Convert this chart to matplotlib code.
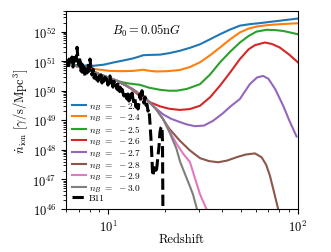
import matplotlib
matplotlib.use("Agg")
import matplotlib.pyplot as plt
from matplotlib.ticker import NullFormatter
import numpy as np

plt.rcParams['font.family'] = 'serif'
plt.rcParams['font.serif'] = ['cmr10']
plt.rcParams['mathtext.fontset'] = 'cm'
plt.rcParams['axes.formatter.use_mathtext'] = True

# redshift / log10(ndot_ion)
z_23 = [6.0, 7.0, 8.3, 9.5, 10.6, 12.0, 13.5, 14.7, 15.3, 16.5, 18.8, 21.0, 23.9, 27.0, 30.5, 34.5, 38.9, 44.0, 49.5, 55.8, 64.0, 74.0, 86.0, 100.0]
y_23 = [50.90, 50.86, 50.84, 50.88, 50.95, 51.02, 51.09, 51.16, 51.20, 51.21, 51.22, 51.27, 51.35, 51.45, 51.57, 51.74, 51.91, 52.07, 52.20, 52.25, 52.29, 52.34, 52.39, 52.44]

z_24 = [6.0, 7.4, 8.8, 10.2, 11.8, 13.5, 14.5, 15.3, 16.2, 17.9, 20.5, 23.9, 27.0, 30.5, 34.5, 38.9, 44.0, 49.5, 55.0, 60.6, 70.0, 80.3, 100.0]
y_24 = [50.90, 50.79, 50.72, 50.67, 50.66, 50.67, 50.69, 50.71, 50.68, 50.65, 50.66, 50.70, 50.80, 50.96, 51.20, 51.46, 51.74, 51.97, 52.10, 52.17, 52.22, 52.25, 52.28]

z_25 = [6.0, 7.4, 9.0, 11.1, 12.0, 13.0, 14.7, 16.5, 18.8, 21.0, 23.0, 26.0, 30.5, 34.5, 38.9, 44.0, 49.5, 55.0, 60.6, 68.5, 76.0, 83.7, 100.0]
y_25 = [50.90, 50.79, 50.56, 50.34, 50.28, 50.24, 50.20, 50.10, 50.03, 50.00, 50.00, 50.06, 50.22, 50.55, 50.96, 51.32, 51.63, 51.85, 52.00, 52.06, 52.05, 52.02, 51.91]

z_26 = [6.0, 7.4, 9.0, 11.1, 12.5, 13.5, 14.7, 16.5, 18.8, 21.0, 23.9, 27.0, 30.5, 34.5, 38.9, 44.0, 49.5, 55.0, 59.4, 67.0, 73.0, 80.3, 90.0, 100.0]
y_26 = [50.90, 50.79, 50.56, 50.34, 50.18, 50.02, 49.82, 49.62, 49.47, 49.39, 49.35, 49.38, 49.49, 49.78, 50.17, 50.62, 51.07, 51.40, 51.54, 51.63, 51.58, 51.46, 51.22, 50.96]

z_27 = [6.0, 7.4, 9.0, 11.1, 13.5, 15.9, 17.5, 19.5, 21.5, 23.9, 26.0, 28.7, 32.0, 35.7, 40.0, 44.0, 49.5, 55.8, 61.0, 65.6, 70.0, 76.0, 83.7, 90.0, 98.4]
y_27 = [50.90, 50.79, 50.56, 50.34, 50.05, 49.72, 49.45, 49.20, 49.05, 48.94, 48.86, 48.80, 48.82, 48.98, 49.22, 49.46, 49.72, 50.22, 50.45, 50.50, 50.40, 50.05, 49.49, 49.00, 48.45]

z_28 = [6.0, 7.4, 9.0, 11.1, 13.5, 15.9, 17.9, 19.5, 21.1, 23.9, 27.0, 30.5, 34.0, 38.1, 42.5, 47.5, 53.0, 59.4, 64.4, 68.0, 71.2, 75.0, 78.7, 80.0]
y_28 = [50.90, 50.79, 50.56, 50.34, 50.05, 49.72, 49.38, 49.04, 48.70, 48.31, 47.98, 47.72, 47.62, 47.58, 47.64, 47.75, 47.84, 47.88, 47.75, 47.50, 47.13, 46.55, 46.0, 45.8]

z_29 = [6.0, 7.4, 9.0, 11.1, 13.5, 15.9, 17.9, 19.5, 21.1, 23.0, 25.0, 27.0, 29.0, 30.5, 33.0, 34.0]
y_29 = [50.90, 50.79, 50.56, 50.34, 50.05, 49.72, 49.38, 49.04, 48.62, 48.20, 47.85, 47.59, 46.95, 46.50, 46.0, 45.8]

z_30 = [6.0, 7.4, 9.0, 11.1, 13.5, 15.9, 17.9, 19.5, 21.1, 22.9, 24.0, 26.9, 28.0, 29.4, 30.0]
y_30 = [50.90, 50.79, 50.56, 50.34, 50.05, 49.72, 49.38, 49.04, 48.59, 48.05, 47.59, 46.79, 46.50, 46.0, 45.8]

z_b11 = [6.01, 6.08, 6.16, 6.24, 6.31, 6.39, 6.46, 6.54, 6.62, 6.70, 6.79, 6.87, 6.95, 7.03, 7.12, 7.21, 7.30, 7.39,
         7.48, 7.57, 7.66, 7.76, 7.85, 7.95, 8.04, 8.14, 8.24, 8.34, 8.44, 8.55, 8.65, 8.76, 8.86, 8.97, 9.08, 9.19,
         9.30, 9.42, 9.53, 9.64, 9.76, 9.88, 10.0, 10.12, 10.24, 10.37, 10.50, 10.62, 10.75, 10.89, 11.02, 11.15,
         11.29, 11.43, 11.57, 11.71, 11.85, 12.00, 12.14, 12.29, 12.44, 12.59, 12.74, 12.90, 13.06, 13.22, 13.38,
         13.54, 13.71, 13.87, 14.04, 14.22, 14.39, 14.56, 14.74, 14.92, 15.10, 15.28, 15.47, 15.66, 15.85, 16.04,
         16.24, 16.44, 16.64, 16.84, 17.05, 17.15, 17.25, 17.46, 17.68, 17.89, 18.11, 18.33, 18.55, 18.78, 19.00,
         19.24, 19.36, 19.48]
y_b11 = [50.80, 51.00, 50.73, 51.07, 50.86, 50.95, 51.14, 50.80, 51.07, 51.24, 51.00, 51.47, 51.07, 50.86, 51.14,
         50.66, 50.90, 50.56, 50.80, 50.46, 50.73, 50.60, 50.86, 50.66, 51.07, 50.73, 50.53, 50.73, 50.43, 50.56,
         50.39, 50.53, 50.32, 50.50, 50.39, 50.53, 50.26, 50.46, 50.32, 50.46, 50.26, 50.39, 50.19, 50.39, 50.50,
         50.26, 50.39, 50.12, 50.32, 50.19, 50.26, 50.05, 50.22, 49.99, 50.12, 49.89, 50.05, 49.92, 49.82, 49.99,
         49.82, 49.72, 49.89, 49.65, 49.85, 49.72, 49.92, 49.72, 49.58, 49.72, 49.45, 49.65, 49.38, 49.58, 49.89,
         49.65, 50.00, 49.72, 49.58, 49.79, 49.51, 49.55, 49.31, 49.38, 48.90, 48.36, 47.69, 47.25, 47.11, 47.40,
         47.35, 47.20, 47.45, 47.80, 48.10, 48.60, 48.75, 48.80, 48.30, 45.50]

labels = [r'$n_B\ =\ -2.3$', r'$n_B\ =\ -2.4$', r'$n_B\ =\ -2.5$', r'$n_B\ =\ -2.6$',
          r'$n_B\ =\ -2.7$', r'$n_B\ =\ -2.8$', r'$n_B\ =\ -2.9$', r'$n_B\ =\ -3.0$']
colors = ['#1f77b4', '#ff7f0e', '#2ca02c', '#d62728', '#9467bd', '#8c564b', '#e377c2', '#7f7f7f']
zs = [z_23, z_24, z_25, z_26, z_27, z_28, z_29, z_30]
ys = [y_23, y_24, y_25, y_26, y_27, y_28, y_29, y_30]
yticks = [1e46, 1e47, 1e48, 1e49, 1e50, 1e51, 1e52]

fig = plt.figure(figsize=(3.31, 2.53), dpi=100)
ax = fig.add_axes([0.199, 0.170, 0.701, 0.783])

for z, y, lab, col in zip(zs, ys, labels, colors):
    ax.plot(z, 10 ** np.array(y), color=col, lw=1.5, label=lab)
ax.plot(z_b11, 10 ** np.array(y_b11), color='k', lw=2.2, ls='--', label='B11')

ax.set_xscale('log')
ax.set_yscale('log')
ax.set_xlim(6, 100)
ax.set_ylim(1e46, 5e52)
ax.set_yticks(yticks)
ax.xaxis.set_minor_formatter(NullFormatter())
ax.yaxis.set_minor_formatter(NullFormatter())
ax.set_xlabel('Redshift', fontsize=9)
ax.set_ylabel(r'$\dot{n}_{\rm ion}\ [\gamma/{\rm s}/{\rm Mpc}^3]$', fontsize=9)
ax.yaxis.set_label_coords(-0.155, 0.5)
ax.xaxis.set_label_coords(0.5, -0.12)
ax.tick_params(labelsize=9)
ax.text(0.2, 0.885, r'$B_0 = 0.05{\rm n}G$', transform=ax.transAxes, fontsize=9)
ax.legend(loc='lower left', fontsize=6.8, frameon=False, handlelength=1.4,
          handletextpad=0.35, labelspacing=0.0, borderaxespad=0.3)

fig.savefig('out.png', dpi=100)
